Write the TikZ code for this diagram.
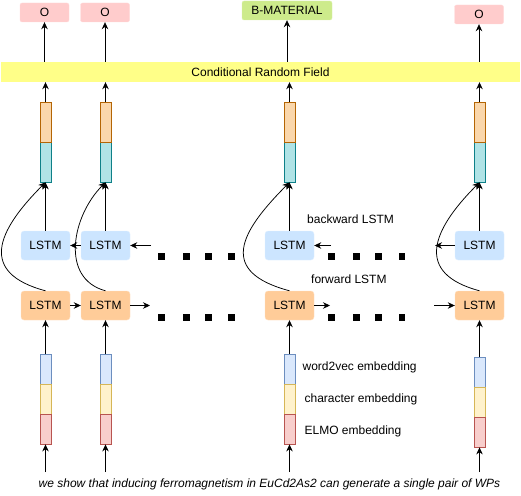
\documentclass[tikz,border=0pt]{standalone}
\usepackage{fontspec}
\setmainfont{Liberation Sans}
\usetikzlibrary{arrows.meta,positioning}

\definecolor{tagred}{HTML}{FFCCCC}
\definecolor{taggreen}{HTML}{CDEB8B}
\definecolor{crfyellow}{HTML}{FFFF88}
\definecolor{fwdfill}{HTML}{FFCC99}
\definecolor{bwdfill}{HTML}{CCE5FF}
\definecolor{segorange}{HTML}{FAD7AC}
\definecolor{segorangeline}{HTML}{B46504}
\definecolor{segteal}{HTML}{B0E3E6}
\definecolor{segtealline}{HTML}{0E8088}
\definecolor{embblue}{HTML}{DAE8FC}
\definecolor{embblueline}{HTML}{6C8EBF}
\definecolor{embyellow}{HTML}{FFF2CC}
\definecolor{embyellowline}{HTML}{D6B656}
\definecolor{embred}{HTML}{F8CECC}
\definecolor{embredline}{HTML}{B85450}

\begin{document}
\begin{tikzpicture}[
                x=1pt, y=1pt,
                font=\fontsize{12}{14}\selectfont,
                tag/.style={
                    rectangle,
                    fill=tagred,
                    draw=tagred!70!white,
                    rounded corners=2pt,
                    minimum width=49pt,
                    minimum height=19pt,
                    inner sep=0pt
                },
                lstm/.style={
                    rectangle,
                    rounded corners=3pt,
                    minimum width=49pt,
                    minimum height=29pt,
                    inner sep=0pt
                },
                seg/.style={
                    rectangle,
                    draw,
                    line width=0.8pt,
                    minimum width=11pt,
                    inner sep=0pt
                },
                note/.style={
                    inner sep=0pt,
                    anchor=west
                },
                line/.style={
                    draw,
                    line width=0.75pt,
                    -{Stealth[length=7pt,width=6.5pt]}
                }]

                \useasboundingbox (0,0) rectangle (521,-495);

                % output tags
                \node [tag] (out_1) at (44.5,-12.5) {O};
                \node [tag] (out_2) at (105,-12.5) {O};
                \node [tag, fill=taggreen, draw=taggreen!70!white, minimum width=90pt] (out_3) at (287,-10.5) {B-MATERIAL};
                \node [tag] (out_4) at (479,-14.5) {O};

                \node [rectangle, fill=crfyellow, minimum width=519pt, minimum height=20pt, inner sep=0pt] (crf) at (260.5,-72) {Conditional Random Field};

                % forward and backward LSTM rows
                \node [lstm, fill=fwdfill, draw=fwdfill!60!white] (fwd_1) at (45.5,-305.5) {LSTM};
                \node [lstm, fill=fwdfill, draw=fwdfill!60!white] (fwd_2) at (105.5,-305.5) {LSTM};
                \node [lstm, fill=fwdfill, draw=fwdfill!60!white] (fwd_3) at (289.5,-305.5) {LSTM};
                \node [lstm, fill=fwdfill, draw=fwdfill!60!white] (fwd_4) at (479.5,-305.5) {LSTM};

                \node [lstm, fill=bwdfill, draw=bwdfill!60!white, above of=fwd_1, node distance=60pt] (bwd_1) {LSTM};
                \node [lstm, fill=bwdfill, draw=bwdfill!60!white, above of=fwd_2, node distance=60pt] (bwd_2) {LSTM};
                \node [lstm, fill=bwdfill, draw=bwdfill!60!white, above of=fwd_3, node distance=60pt] (bwd_3) {LSTM};
                \node [lstm, fill=bwdfill, draw=bwdfill!60!white, above of=fwd_4, node distance=60pt] (bwd_4) {LSTM};

                % concatenated hidden states
                \node [seg, fill=segteal, draw=segtealline, minimum height=40pt, above of=bwd_1, node distance=83.5pt] (teal_1) {};
                \node [seg, fill=segteal, draw=segtealline, minimum height=40pt, above of=bwd_2, node distance=83.5pt] (teal_2) {};
                \node [seg, fill=segteal, draw=segtealline, minimum height=40pt, above of=bwd_3, node distance=83.5pt] (teal_3) {};
                \node [seg, fill=segteal, draw=segtealline, minimum height=40pt, above of=bwd_4, node distance=83.5pt] (teal_4) {};

                \node [seg, fill=segorange, draw=segorangeline, minimum height=40pt, above of=teal_1, node distance=40pt] (orange_1) {};
                \node [seg, fill=segorange, draw=segorangeline, minimum height=40pt, above of=teal_2, node distance=40pt] (orange_2) {};
                \node [seg, fill=segorange, draw=segorangeline, minimum height=40pt, above of=teal_3, node distance=40pt] (orange_3) {};
                \node [seg, fill=segorange, draw=segorangeline, minimum height=40pt, above of=teal_4, node distance=40pt] (orange_4) {};

                % word embeddings
                \node [seg, fill=embblue, draw=embblueline, minimum height=30pt, below of=fwd_1, node distance=63.5pt] (word_1) {};
                \node [seg, fill=embblue, draw=embblueline, minimum height=30pt, below of=fwd_2, node distance=63.5pt] (word_2) {};
                \node [seg, fill=embblue, draw=embblueline, minimum height=30pt, below of=fwd_3, node distance=63.5pt] (word_3) {};
                \node [seg, fill=embblue, draw=embblueline, minimum height=30pt, below of=fwd_4, node distance=66.5pt] (word_4) {};

                \node [seg, fill=embyellow, draw=embyellowline, minimum height=30pt, below of=word_1, node distance=30pt] (char_1) {};
                \node [seg, fill=embyellow, draw=embyellowline, minimum height=30pt, below of=word_2, node distance=30pt] (char_2) {};
                \node [seg, fill=embyellow, draw=embyellowline, minimum height=30pt, below of=word_3, node distance=30pt] (char_3) {};
                \node [seg, fill=embyellow, draw=embyellowline, minimum height=30pt, below of=word_4, node distance=30pt] (char_4) {};

                \node [seg, fill=embred, draw=embredline, minimum height=30pt, below of=char_1, node distance=30pt] (elmo_1) {};
                \node [seg, fill=embred, draw=embredline, minimum height=30pt, below of=char_2, node distance=30pt] (elmo_2) {};
                \node [seg, fill=embred, draw=embredline, minimum height=30pt, below of=char_3, node distance=30pt] (elmo_3) {};
                \node [seg, fill=embred, draw=embredline, minimum height=30pt, below of=char_4, node distance=30pt] (elmo_4) {};

                % texts
                \node [note] (backward_text) at (307,-219) {backward LSTM};
                \node [note] (forward_text) at (311,-279) {forward LSTM};
                \node [note, right=7pt of word_3, yshift=2pt] (word_text) {word2vec embedding};
                \node [note, right=9pt of char_3] (char_text) {character embedding};
                \node [note, right=9pt of elmo_3, yshift=-2pt] (elmo_text) {ELMO embedding};
                \node (sentence) at (269.5,-484) {\itshape we show that inducing ferromagnetism in EuCd2As2 can generate a single pair of WPs};

                \coordinate (tok_1) at (45.5,-472);
                \coordinate (tok_2) at (105.5,-472);
                \coordinate (tok_3) at (289.5,-472);
                \coordinate (tok_4) at (479.5,-472);

                \coordinate (bwd_in_2) at (151,-245.5);
                \coordinate (bwd_in_3) at (331,-245.5);
                \coordinate (bwd_out_4) at (435,-245.5);
                \coordinate (fwd_out_2) at (150,-305.5);
                \coordinate (fwd_out_3) at (330,-305.5);
                \coordinate (fwd_in_4) at (434,-305.5);

                % dots
                \foreach \x in {161.7,186.7,208.7,231.7,331.7,356.7,378.7,402} {
                    \fill (\x-3.3,-253.4) rectangle (\x+3.3,-260);
                    \fill (\x-3.3,-314) rectangle (\x+3.3,-320.6);
                }

                \draw [line] (out_1.south |- crf.north) -- (out_1.south);
                \draw [line] (out_2.south |- crf.north) -- (out_2.south);
                \draw [line] (out_3.south |- crf.north) -- (out_3.south);
                \draw [line] (out_4.south |- crf.north) -- (out_4.south);

                \draw [line] (orange_1.north) -- (orange_1.north |- crf.south);
                \draw [line] (orange_2.north) -- (orange_2.north |- crf.south);
                \draw [line] (orange_3.north) -- (orange_3.north |- crf.south);
                \draw [line] (orange_4.north) -- (orange_4.north |- crf.south);

                \draw [line] (bwd_1) -- (teal_1);
                \draw [line] (bwd_2) -- (teal_2);
                \draw [line] (bwd_3) -- (teal_3);
                \draw [line] (bwd_4) -- (teal_4);

                \draw [line] (fwd_1.north) to[out=165, in=225, looseness=1.64] (teal_1.south);
                \draw [line] (fwd_2.north) to[out=165, in=225, looseness=1.12] (teal_2.south);
                \draw [line] (fwd_3.north) to[out=165, in=225, looseness=1.72] (teal_3.south);
                \draw [line] (fwd_4.north) to[out=165, in=225, looseness=1.6] (teal_4.south);

                \draw [line] (bwd_2) -- (bwd_1);
                \draw [line] (bwd_in_2) -- (bwd_2);
                \draw [line] (bwd_in_3) -- (bwd_3);
                \draw [line] (bwd_4) -- (bwd_out_4);

                \draw [line] (fwd_1) -- (fwd_2);
                \draw [line] (fwd_2) -- (fwd_out_2);
                \draw [line] (fwd_3) -- (fwd_out_3);
                \draw [line] (fwd_in_4) -- (fwd_4);

                \draw [line] (word_1) -- (fwd_1);
                \draw [line] (word_2) -- (fwd_2);
                \draw [line] (word_3) -- (fwd_3);
                \draw [line] (word_4) -- (fwd_4);

                \draw [line] (tok_1) -- (elmo_1);
                \draw [line] (tok_2) -- (elmo_2);
                \draw [line] (tok_3) -- (elmo_3);
                \draw [line] (tok_4) -- (elmo_4);

            \end{tikzpicture}
\end{document}
